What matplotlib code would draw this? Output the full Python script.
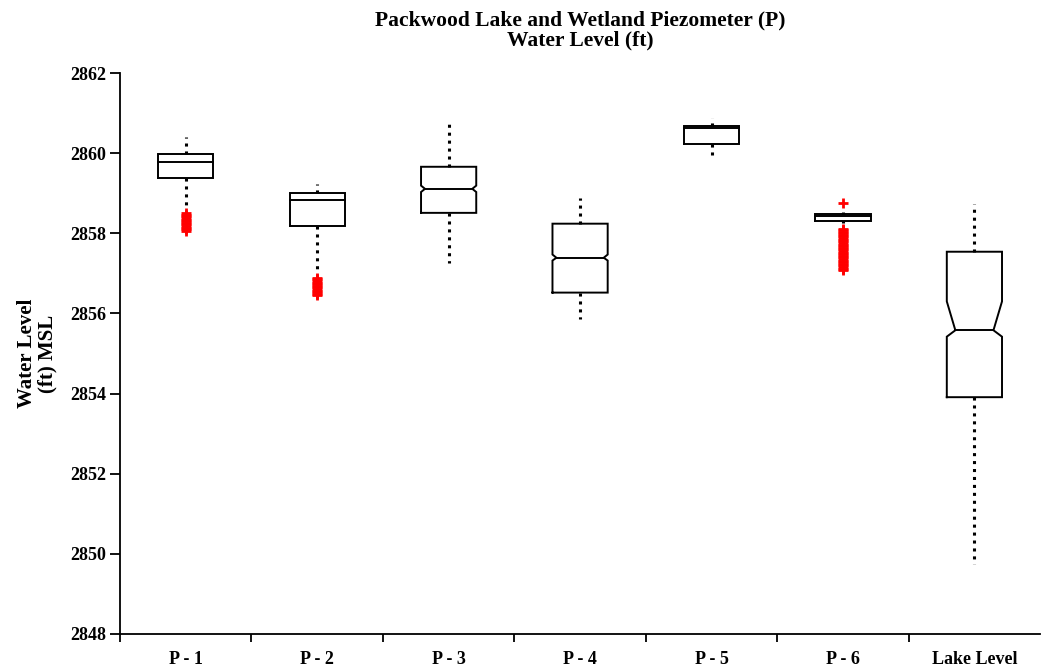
import numpy as np
import matplotlib.pyplot as plt

plt.rcParams['font.family'] = ['Liberation Serif', 'DejaVu Serif']
plt.rcParams['font.weight'] = 'bold'

labels = ['P - 1', 'P - 2', 'P - 3', 'P - 4', 'P - 5', 'P - 6', 'Lake Level']
q1 = [2859.38, 2858.17, 2858.51, 2856.52, 2860.23, 2858.30, 2853.91]
med = [2859.78, 2858.82, 2859.11, 2857.39, 2860.63, 2858.43, 2855.58]
q3 = [2859.98, 2859.01, 2859.66, 2858.24, 2860.68, 2858.49, 2857.54]
whislo = [2858.69, 2857.09, 2857.27, 2855.85, 2859.88, 2858.25, 2849.75]
whishi = [2860.40, 2859.23, 2860.83, 2858.89, 2860.88, 2858.52, 2858.72]
# notch limits (None = no visible notch)
cilo = [None, None, 2859.03, 2857.32, None, None, 2855.42]
cihi = [None, None, 2859.19, 2857.47, None, None, 2856.30]
notch_depth = [0, 0, 0.03, 0.03, 0, 0, 0.065]
fliers = [
    [2858.06, 2858.10, 2858.14, 2858.18, 2858.22, 2858.26, 2858.30, 2858.34, 2858.38, 2858.42, 2858.46, 2858.50],
    [2856.45, 2856.49, 2856.53, 2856.57, 2856.61, 2856.65, 2856.69, 2856.73, 2856.77, 2856.81, 2856.85, 2856.88],
    [],
    [],
    [],
    [2858.76, 2857.08, 2857.12, 2857.16, 2857.20, 2857.24, 2857.28, 2857.32, 2857.36, 2857.40,
     2857.44, 2857.48, 2857.52, 2857.56, 2857.60, 2857.64, 2857.68, 2857.72, 2857.76, 2857.80,
     2857.84, 2857.88, 2857.92, 2857.96, 2858.00, 2858.04, 2858.08, 2858.11],
    [],
]

fig = plt.figure(figsize=(10.42, 6.68), dpi=100)
ax = fig.add_axes([0.1152, 0.0509, 0.883, 0.8398])

w = 0.21
for i in range(len(labels)):
    x = i + 1
    if cilo[i] is None:
        xs = [x - w, x - w, x + w, x + w, x - w]
        ys = [q1[i], q3[i], q3[i], q1[i], q1[i]]
        mx = [x - w, x + w]
    else:
        d = notch_depth[i]
        xs = [x - w, x - w, x - w + d, x - w, x - w, x + w, x + w, x + w - d, x + w, x + w, x - w]
        ys = [q1[i], cilo[i], med[i], cihi[i], q3[i], q3[i], cihi[i], med[i], cilo[i], q1[i], q1[i]]
        mx = [x - w + d, x + w - d]
    ax.plot(xs, ys, color='black', lw=1.4, solid_joinstyle='miter')
    ax.plot(mx, [med[i], med[i]], color='black', lw=1.4)
    ax.plot([x, x], [q3[i], whishi[i]], color='black', lw=2.2, linestyle=(0, (1, 1.6)))
    ax.plot([x, x], [q1[i], whislo[i]], color='black', lw=2.2, linestyle=(0, (1, 1.6)))
    if fliers[i]:
        ax.plot([x] * len(fliers[i]), fliers[i], linestyle='none', marker='+',
                color='red', markersize=7, markeredgewidth=2)

ax.set_xlim(0.5, 7.5)
ax.set_ylim(2848, 2862)
ax.set_yticks(np.arange(2848, 2863, 2))
# category names sit between the boundary ticks
ax.set_xticks(np.arange(1, 8), minor=True)
ax.set_xticklabels(labels, minor=True)
ax.tick_params(axis='x', which='minor', length=0, pad=12, labelsize=13)
ax.set_xticks(np.arange(0.5, 7.5, 1))
ax.set_xticklabels([''] * 7)
ax.tick_params(axis='x', which='major', direction='out', length=6, width=1.3)
ax.tick_params(axis='y', direction='out', length=7, width=1.3, labelsize=13, pad=3)
for t in ax.get_yticklabels() + ax.get_xticklabels(minor=True):
    t.set_fontweight('bold')

ax.spines['top'].set_visible(False)
ax.spines['right'].set_visible(False)
ax.spines['left'].set_linewidth(1.3)
ax.spines['bottom'].set_linewidth(1.3)

ax.set_ylabel('Water Level\n(ft) MSL', fontsize=15, fontweight='bold', labelpad=9, linespacing=1.05)
fig.text(0.5567, 0.985, 'Packwood Lake and Wetland Piezometer (P)\nWater Level (ft)',
         ha='center', va='top', fontsize=15.5, fontweight='bold', linespacing=1.0)

fig.savefig('out.png', dpi=100)
